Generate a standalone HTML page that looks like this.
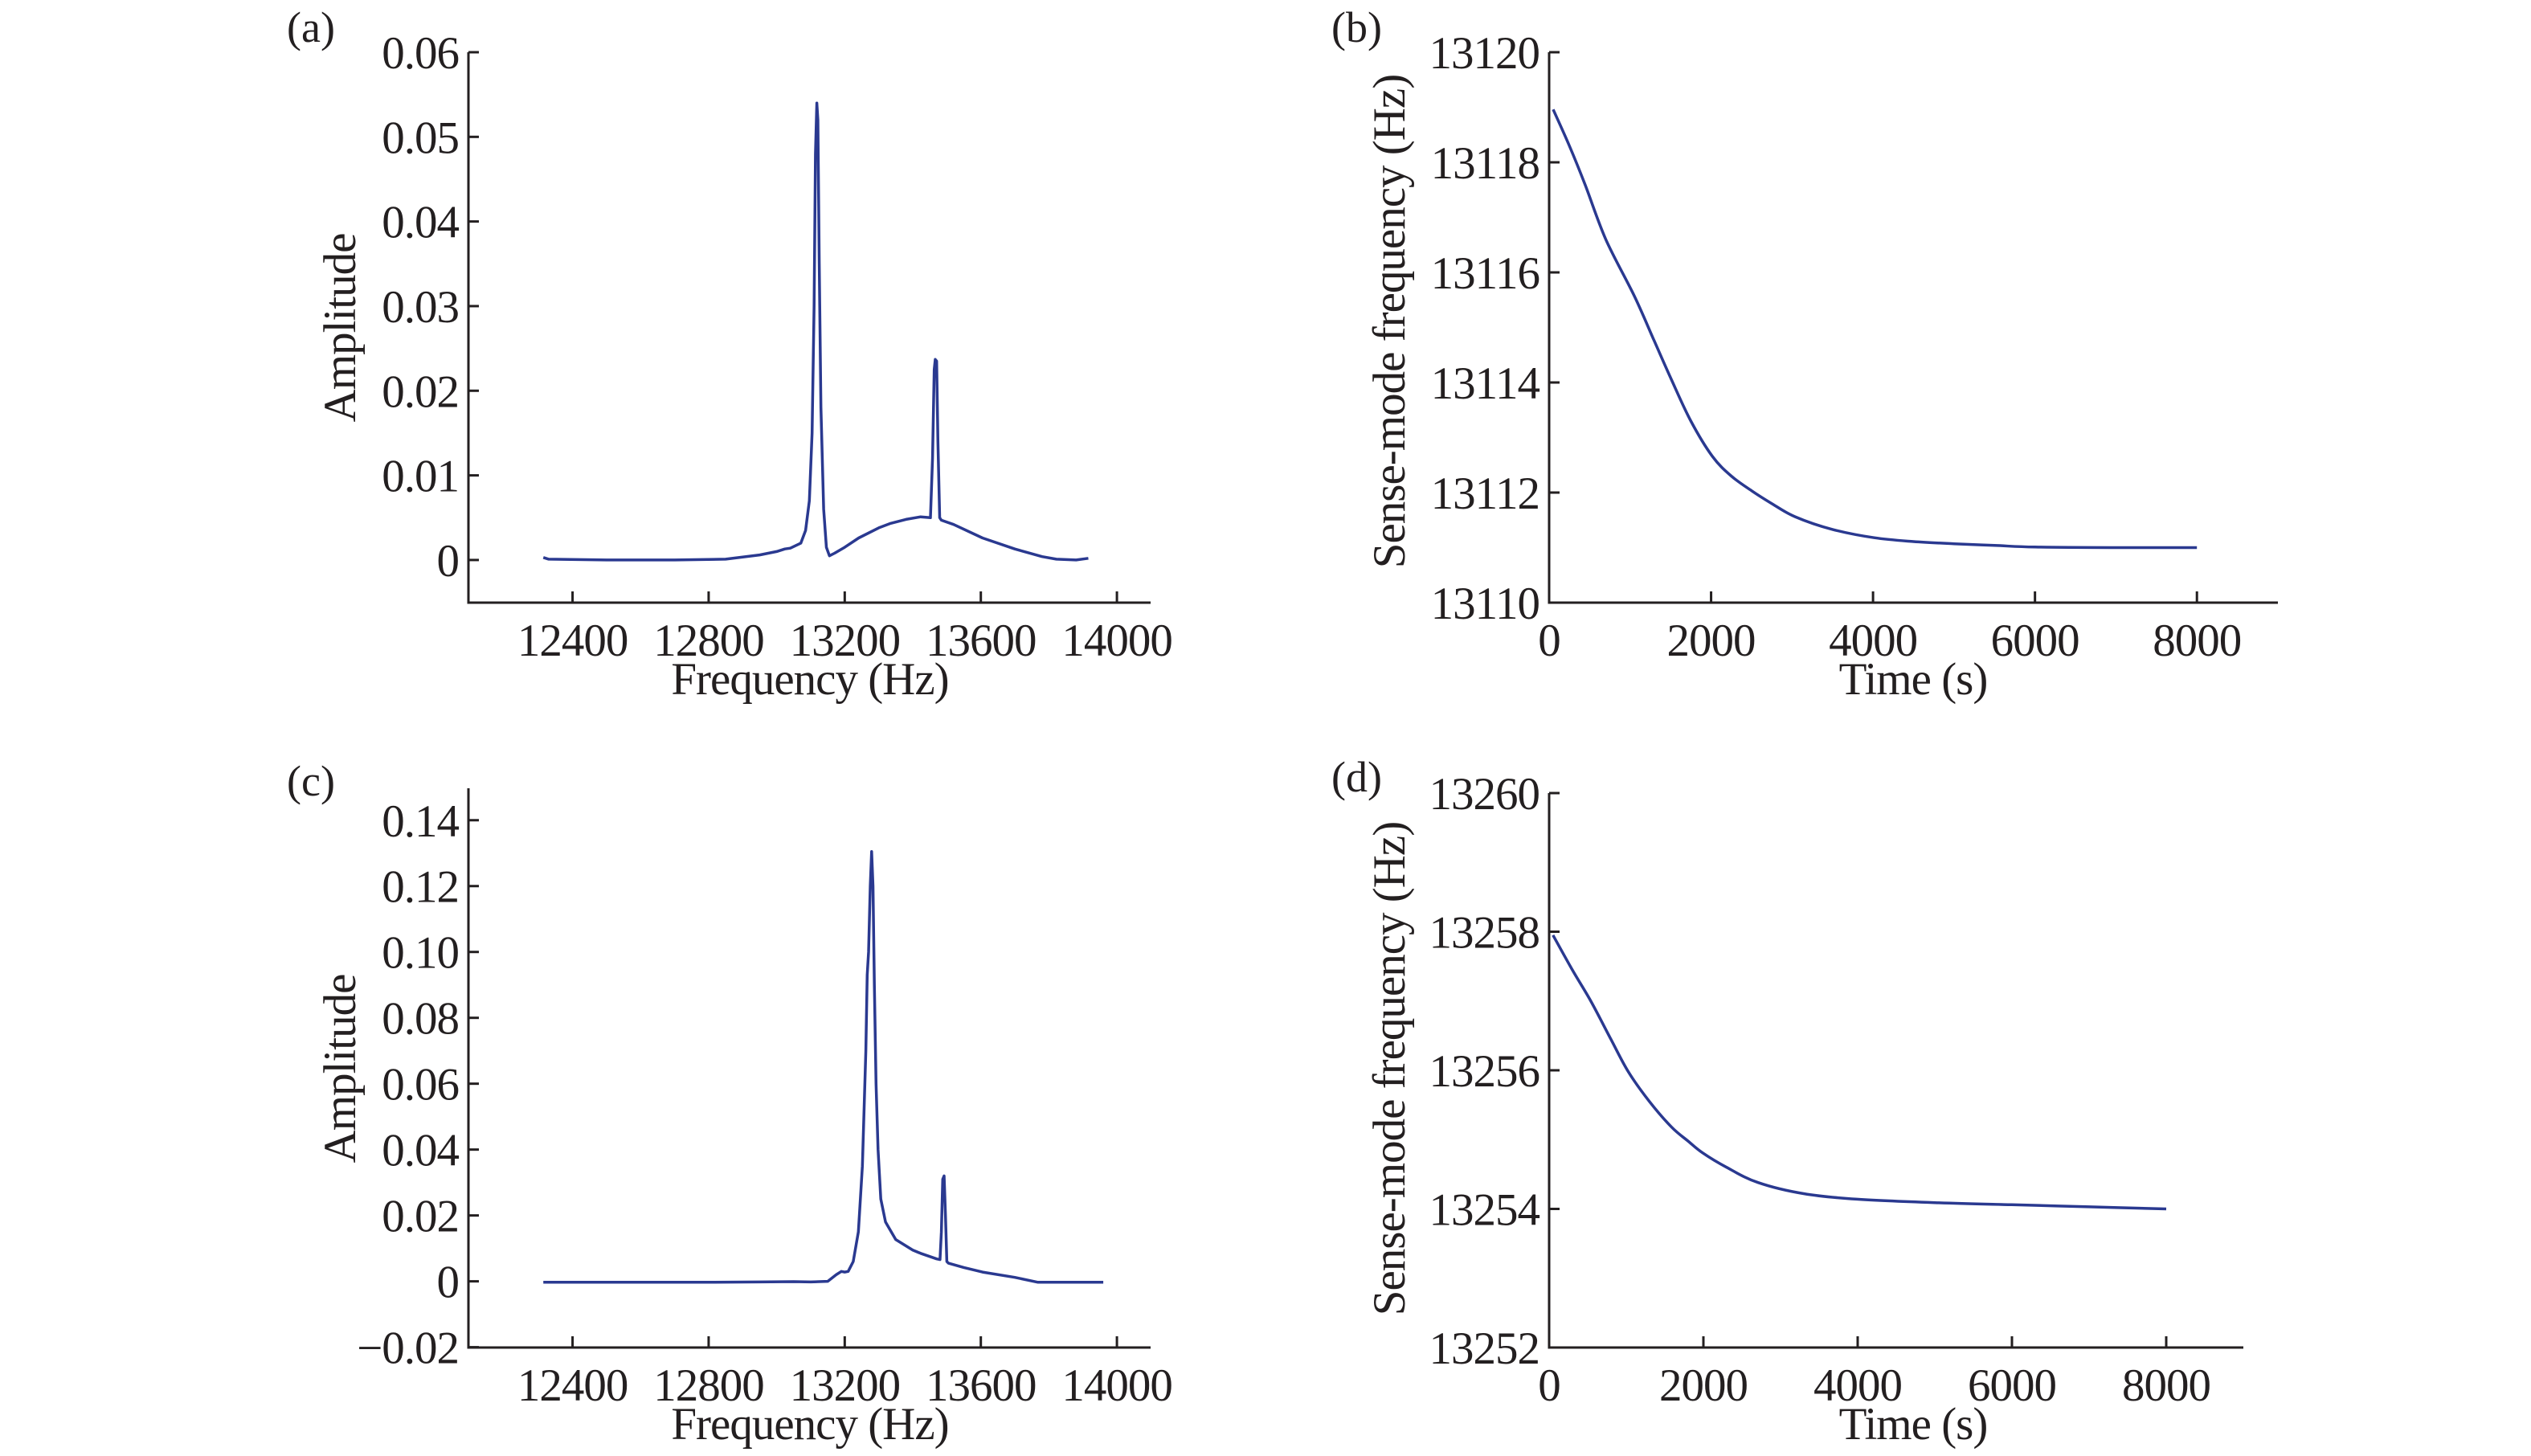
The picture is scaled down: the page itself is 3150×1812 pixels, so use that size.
<!DOCTYPE html>
<html><head><meta charset="utf-8"><style>
html,body{margin:0;padding:0;background:#fff}
svg{display:block}
text{font-family:"Liberation Serif",serif;fill:#231f20}
</style></head><body>
<svg id="fig" width="3150" height="1812" viewBox="0 0 3150 1812" xmlns="http://www.w3.org/2000/svg"></svg>
<script>
// ---- Panel (a) data ----
const freqA = [12314,12330,12500,12700,12850,12950,13000,13024,13040,13071,13085,13096,13104,13110,13114,13118,13121,13125,13130,13138,13146,13155,13170,13200,13241,13300,13333,13380,13423,13452,13458,13463,13466,13470,13474,13479,13484,13520,13605,13700,13780,13822,13880,13916];
const ampA  = [0.0003,0.0001,0,0,0.0001,0.0006,0.001,0.0013,0.0014,0.002,0.0035,0.007,0.015,0.03,0.048,0.054,0.052,0.035,0.018,0.006,0.0015,0.0005,0.0008,0.0015,0.0026,0.0038,0.0043,0.0048,0.0051,0.005,0.012,0.0225,0.0237,0.0235,0.014,0.005,0.0047,0.0042,0.0026,0.0013,0.0004,0.0001,0,0.0002];
const yTicksA = [0,0.01,0.02,0.03,0.04,0.05,0.06];
const yTickLabelsA = ["0","0.01","0.02","0.03","0.04","0.05","0.06"];
const xTicksF = [12400,12800,13200,13600,14000];
const xTickLabelsF = ["12400","12800","13200","13600","14000"];
// ---- Panel (b) data ----
const timeB = [50,250,443,700,1053,1300,1511,1750,2015,2250,2504,2750,3038,3500,4015,4500,5000,5500,6000,7000,8000];
const freqB = [13118.96,13118.3,13117.6,13116.6,13115.57,13114.75,13114.05,13113.3,13112.66,13112.3,13112.03,13111.8,13111.56,13111.33,13111.18,13111.11,13111.07,13111.04,13111.01,13111.0,13111.0];
const yTicksB = [13110,13112,13114,13116,13118,13120];
const yTickLabelsB = ["13110","13112","13114","13116","13118","13120"];
const xTicksT = [0,2000,4000,6000,8000];
const xTickLabelsT = ["0","2000","4000","6000","8000"];
// ---- Panel (c) data ----
const freqC = [12314,12500,12800,12950,13050,13100,13150,13175,13190,13200,13210,13225,13240,13252,13262,13266,13270,13275,13279,13283,13287,13292,13298,13306,13320,13350,13400,13423,13470,13480,13484,13488,13492,13496,13500,13505,13550,13605,13700,13768,13850,13960];
const ampC  = [-0.0003,-0.0003,-0.0003,-0.0002,-0.0001,-0.0002,0,0.002,0.003,0.0028,0.003,0.006,0.015,0.035,0.07,0.093,0.1,0.12,0.1305,0.12,0.09,0.06,0.04,0.025,0.018,0.0127,0.0095,0.0085,0.0068,0.0066,0.015,0.031,0.032,0.02,0.006,0.0055,0.0042,0.0028,0.0012,-0.0003,-0.0003,-0.0003];
const yTicksC = [-0.02,0,0.02,0.04,0.06,0.08,0.10,0.12,0.14];
const yTickLabelsC = ["\u22120.02","0","0.02","0.04","0.06","0.08","0.10","0.12","0.14"];
// ---- Panel (d) data ----
const timeD = [50,300,545,800,1026,1300,1587,1800,1988,2300,2709,3300,3992,5000,5996,7000,8000];
const freqD = [13257.95,13257.45,13256.99,13256.45,13255.98,13255.55,13255.18,13254.98,13254.81,13254.6,13254.38,13254.22,13254.14,13254.09,13254.06,13254.03,13254.0];
const yTicksD = [13252,13254,13256,13258,13260];
const yTickLabelsD = ["13252","13254","13256","13258","13260"];

const NS = "http://www.w3.org/2000/svg";
const svg = document.getElementById('fig');
function mk(tag, attrs, parent){const e=document.createElementNS(NS,tag);for(const k in attrs)e.setAttribute(k,attrs[k]);(parent||svg).appendChild(e);return e;}
function scale(d0,d1,r0,r1){return v=>r0+(v-d0)/(d1-d0)*(r1-r0);}
function smoothPath(P){
  let d=`M${P[0][0].toFixed(1)},${P[0][1].toFixed(1)}`;
  for(let i=0;i<P.length-1;i++){
    const p0=P[Math.max(0,i-1)],p1=P[i],p2=P[i+1],p3=P[Math.min(P.length-1,i+2)];
    const c1=[p1[0]+(p2[0]-p0[0])/6,p1[1]+(p2[1]-p0[1])/6];
    const c2=[p2[0]-(p3[0]-p1[0])/6,p2[1]-(p3[1]-p1[1])/6];
    d+=` C${c1[0].toFixed(1)},${c1[1].toFixed(1)} ${c2[0].toFixed(1)},${c2[1].toFixed(1)} ${p2[0].toFixed(1)},${p2[1].toFixed(1)}`;
  }
  return d;
}

function panel(cfg){
  const g = mk('g',{});
  
  
  const X = scale(cfg.xd[0],cfg.xd[1],cfg.L,cfg.R);
  const Y = scale(cfg.yd[0],cfg.yd[1],cfg.B,cfg.T);
  const ax = mk('path',{d:`M${cfg.L},${cfg.T} L${cfg.L},${cfg.B} L${cfg.R},${cfg.B}`,fill:'none',stroke:'#231f20','stroke-width':3},g);
  
  
  cfg.yt.forEach((v,i)=>{
    const y=Y(v);
    const tk=mk('line',{x1:cfg.L,x2:cfg.L+13,y1:y,y2:y,stroke:'#231f20','stroke-width':3},g);
    
    
    const t=mk('text',{x:cfg.L-12,y:y+20,'text-anchor':'end','font-size':57,'letter-spacing':-1},g);
    t.textContent=cfg.ytl[i];
    
    
  });
  cfg.xt.forEach((v,i)=>{
    const x=X(v);
    const tk=mk('line',{x1:x,x2:x,y1:cfg.B,y2:cfg.B-14,stroke:'#231f20','stroke-width':3},g);
    
    
    const t=mk('text',{x:x,y:cfg.B+66,'text-anchor':'middle','font-size':57,'letter-spacing':-1},g);
    t.textContent=cfg.xtl[i];
    
    
  });
  const xt=mk('text',{x:cfg.xtx,y:cfg.B+114,'text-anchor':'middle','font-size':57,'letter-spacing':-1},g);
  xt.textContent=cfg.xtitle;
  
  
  const yt=mk('text',{x:0,y:0,'text-anchor':'middle','font-size':57,'letter-spacing':-1,transform:`translate(${cfg.ytx},${cfg.yty}) rotate(-90)`},g);
  yt.textContent=cfg.ytitle;
  
  
  const lb=mk('text',{x:cfg.lx,y:cfg.ly,'font-size':54},g);
  lb.textContent=cfg.label;
  
  
  let ln;
  if(cfg.smooth){
    const P=cfg.xs.map((v,i)=>[X(v),Y(cfg.ys[i])]);
    ln=mk('path',{d:smoothPath(P),fill:'none',stroke:'#2a3990','stroke-width':3.5},g);
  } else {
    const pts=cfg.xs.map((v,i)=>X(v).toFixed(1)+','+Y(cfg.ys[i]).toFixed(1)).join(' ');
    ln=mk('polyline',{points:pts,fill:'none',stroke:'#2a3990','stroke-width':3.5,'stroke-linejoin':'round'},g);
  }
  
  
}

panel({name:'panel-a',L:583,R:1432,T:65,B:750,xd:[12094,14099],yd:[-0.00504,0.06],yt:yTicksA,ytl:yTickLabelsA,xt:xTicksF,xtl:xTickLabelsF,
  xtitle:'Frequency (Hz)',xtx:1008,ytitle:'Amplitude',ytx:442,yty:408,label:'(a)',lx:357,ly:52,xs:freqA,ys:ampA});
panel({name:'panel-b',L:1928,R:2835,T:65,B:750,xd:[0,9000],yd:[13110,13120],yt:yTicksB,ytl:yTickLabelsB,xt:xTicksT,xtl:xTickLabelsT,
  xtitle:'Time (s)',xtx:2381,ytitle:'Sense-mode frequency (Hz)',ytx:1748,yty:400,label:'(b)',lx:1657,ly:52,xs:timeB,ys:freqB,smooth:true});
panel({name:'panel-c',L:583,R:1432,T:981,B:1677,xd:[12094,14099],yd:[-0.0201,0.1497],yt:yTicksC,ytl:yTickLabelsC,xt:xTicksF,xtl:xTickLabelsF,
  xtitle:'Frequency (Hz)',xtx:1008,ytitle:'Amplitude',ytx:442,yty:1330,label:'(c)',lx:357,ly:990,xs:freqC,ys:ampC});
panel({name:'panel-d',L:1928,R:2792,T:987,B:1677,xd:[0,9000],yd:[13252,13260],yt:yTicksD,ytl:yTickLabelsD,xt:xTicksT,xtl:xTickLabelsT,
  xtitle:'Time (s)',xtx:2381,ytitle:'Sense-mode frequency (Hz)',ytx:1748,yty:1330,label:'(d)',lx:1657,ly:985,xs:timeD,ys:freqD,smooth:true});
</script>
</body></html>
